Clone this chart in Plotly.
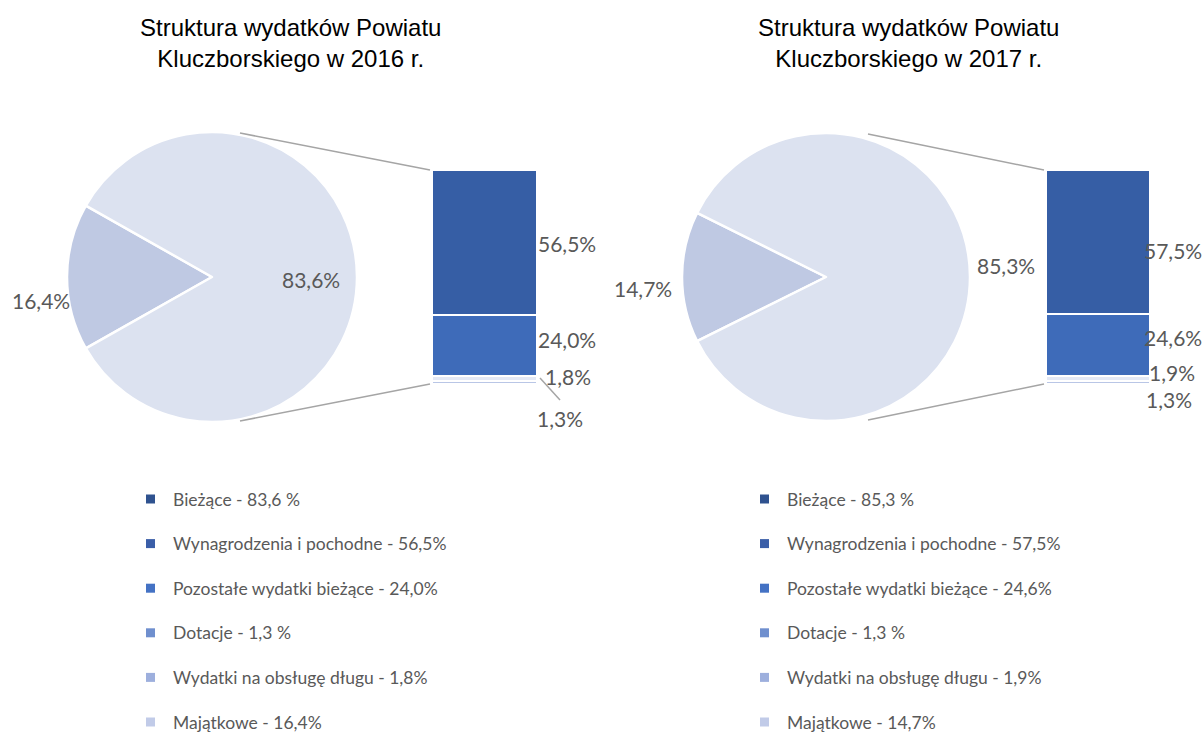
import plotly.graph_objects as go

W, H = 1204, 734

# ---------------- data ----------------
years = ["2016", "2017"]
pie_labels = ["Majątkowe", "Bieżące"]
pie_2016 = [16.4, 83.6]
pie_2017 = [14.7, 85.3]

bar_labels = ["Dotacje", "Wydatki na obsługę długu", "Pozostałe wydatki bieżące", "Wynagrodzenia i pochodne"]
bar_2016 = [1.3, 1.8, 24.0, 56.5]
bar_2017 = [1.3, 1.9, 24.6, 57.5]

legend_2016 = ["Bieżące - 83,6 %", "Wynagrodzenia i pochodne - 56,5%", "Pozostałe wydatki bieżące - 24,0%",
               "Dotacje - 1,3 %", "Wydatki na obsługę długu - 1,8%", "Majątkowe - 16,4%"]
legend_2017 = ["Bieżące - 85,3 %", "Wynagrodzenia i pochodne - 57,5%", "Pozostałe wydatki bieżące - 24,6%",
               "Dotacje - 1,3 %", "Wydatki na obsługę długu - 1,9%", "Majątkowe - 14,7%"]
legend_colors = ["#2f528f", "#3a5ea8", "#4472c4", "#6f8fce", "#9dafdd", "#c1cbe8"]

pie_colors = ["#bfc9e3", "#dce2f0"]
bar_colors = ["#b9c6e6", "#e3e8f5", "#3e6bb9", "#365ea5"]

LABEL_FONT = dict(family="Lato, Open Sans, sans-serif", size=21, color="#595959")
LEGEND_FONT = dict(family="Lato, Open Sans, sans-serif", size=17.5, color="#595959")
TITLE_FONT = dict(family="Liberation Sans, Arial, sans-serif", size=24, color="#000000")


def px(x):
    return x / W


def py(y):
    return 1 - y / H


def fmt(v):
    return f"{v:.1f}".replace(".", ",") + "%"


fig = go.Figure()

panels = [
    dict(vals=pie_2016, bars=bar_2016, leg=legend_2016, cx=212, r=145, bx0=432, bx1=537, dx=0, xa="x", ya="y"),
    dict(vals=pie_2017, bars=bar_2017, leg=legend_2017, cx=826, r=144, bx0=1046, bx1=1150, dx=614, xa="x2", ya="y2"),
]

cy = 277
bar_top, bar_bot = 170, 384
shapes = []
annotations = []


def ann(x, y, text, font, xanchor="center", **kw):
    d = dict(xref="paper", yref="paper", x=px(x), y=py(y), text=text, showarrow=False,
             font=font, xanchor=xanchor, yanchor="middle")
    d.update(kw)
    annotations.append(d)


for i, p in enumerate(panels):
    cx, r = p["cx"], p["r"]
    rot = 270 - p["vals"][0] * 3.6 / 2
    fig.add_trace(go.Pie(
        labels=pie_labels, values=p["vals"], sort=False, direction="clockwise", rotation=rot,
        marker=dict(colors=pie_colors, line=dict(color="white", width=2.5)),
        textinfo="none", hoverinfo="label+percent", showlegend=False,
        domain=dict(x=[px(cx - r), px(cx + r)], y=[py(cy + r), py(cy - r)]),
    ))
    # stacked bar
    for j, (lab, v) in enumerate(zip(bar_labels, p["bars"])):
        fig.add_trace(go.Bar(
            x=[0], y=[v], name=lab, width=1, xaxis=p["xa"], yaxis=p["ya"],
            marker=dict(color=bar_colors[j], line=dict(color="white", width=2)),
            showlegend=False, hoverinfo="name+y",
        ))
    # pie labels
    if i == 0:
        ann(41, 300, fmt(p["vals"][0]), LABEL_FONT)
        ann(311, 279, fmt(p["vals"][1]), LABEL_FONT)
    else:
        ann(643, 288, fmt(p["vals"][0]), LABEL_FONT)
        ann(1006, 265, fmt(p["vals"][1]), LABEL_FONT)
    # bar labels
    cum = 0
    mids = []
    for v in p["bars"]:
        mids.append(cum + v / 2)
        cum += v
    if i == 0:
        offs = [(-2, -36), (6, 2), (-1, 6), (-1, -1)]
    else:
        offs = [(-6, -17), (-3, 6), (-8, 8), (-8, -8)]
    for j, v in enumerate(p["bars"]):
        annotations.append(dict(xref=p["xa"], yref=p["ya"], x=0.5, y=mids[j], text=fmt(v),
                                xanchor="left", yanchor="middle", showarrow=False, font=LABEL_FONT,
                                xshift=offs[j][0], yshift=offs[j][1]))
    # connector lines
    sx = cx + 28 if i == 0 else cx + 42
    shapes.append(dict(type="line", xref="paper", yref="paper",
                       x0=px(sx), y0=py(cy - r + 1), x1=px(p["bx0"] - 2), y1=py(bar_top),
                       line=dict(color="#a5a5a5", width=1.5)))
    shapes.append(dict(type="line", xref="paper", yref="paper",
                       x0=px(sx), y0=py(cy + r - 1), x1=px(p["bx0"] - 2), y1=py(bar_bot),
                       line=dict(color="#a5a5a5", width=1.5)))
    # title
    ann(290 + p["dx"] + (4 if i else 0), 43,
        f"Struktura wydatków Powiatu<br>Kluczborskiego w {years[i]} r.", TITLE_FONT, align="center")
    # legend
    lx = 146 + (614 if i else 0)
    for k, (txt, col) in enumerate(zip(p["leg"], legend_colors)):
        yy = 499 + 44.6 * k
        shapes.append(dict(type="rect", xref="paper", yref="paper",
                           x0=px(lx), x1=px(lx + 9), y0=py(yy + 4.5), y1=py(yy - 4.5),
                           fillcolor=col, line=dict(width=0)))
        ann(lx + 25, yy, txt, LEGEND_FONT, xanchor="left")

# leader line for 1,3% label (2016)
shapes.append(dict(type="line", xref="paper", yref="paper", x0=px(540), y0=py(378), x1=px(560), y1=py(400),
                   line=dict(color="#a5a5a5", width=1.5)))

fig.update_layout(
    width=W, height=H, margin=dict(l=0, r=0, t=0, b=0),
    paper_bgcolor="white", plot_bgcolor="white",
    barmode="stack", bargap=0,
    xaxis=dict(domain=[px(432), px(537)], range=[-0.5, 0.5], visible=False, fixedrange=True),
    yaxis=dict(domain=[py(bar_bot), py(bar_top)], range=[0, sum(bar_2016)], visible=False, fixedrange=True),
    xaxis2=dict(domain=[px(1046), px(1150)], range=[-0.5, 0.5], visible=False, fixedrange=True),
    yaxis2=dict(domain=[py(bar_bot), py(bar_top)], range=[0, sum(bar_2017)], visible=False, fixedrange=True),
    shapes=shapes, annotations=annotations,
)

fig.write_html("out.html", config={"displayModeBar": False},
               post_script="document.body.style.margin='0';document.body.style.padding='0';")
